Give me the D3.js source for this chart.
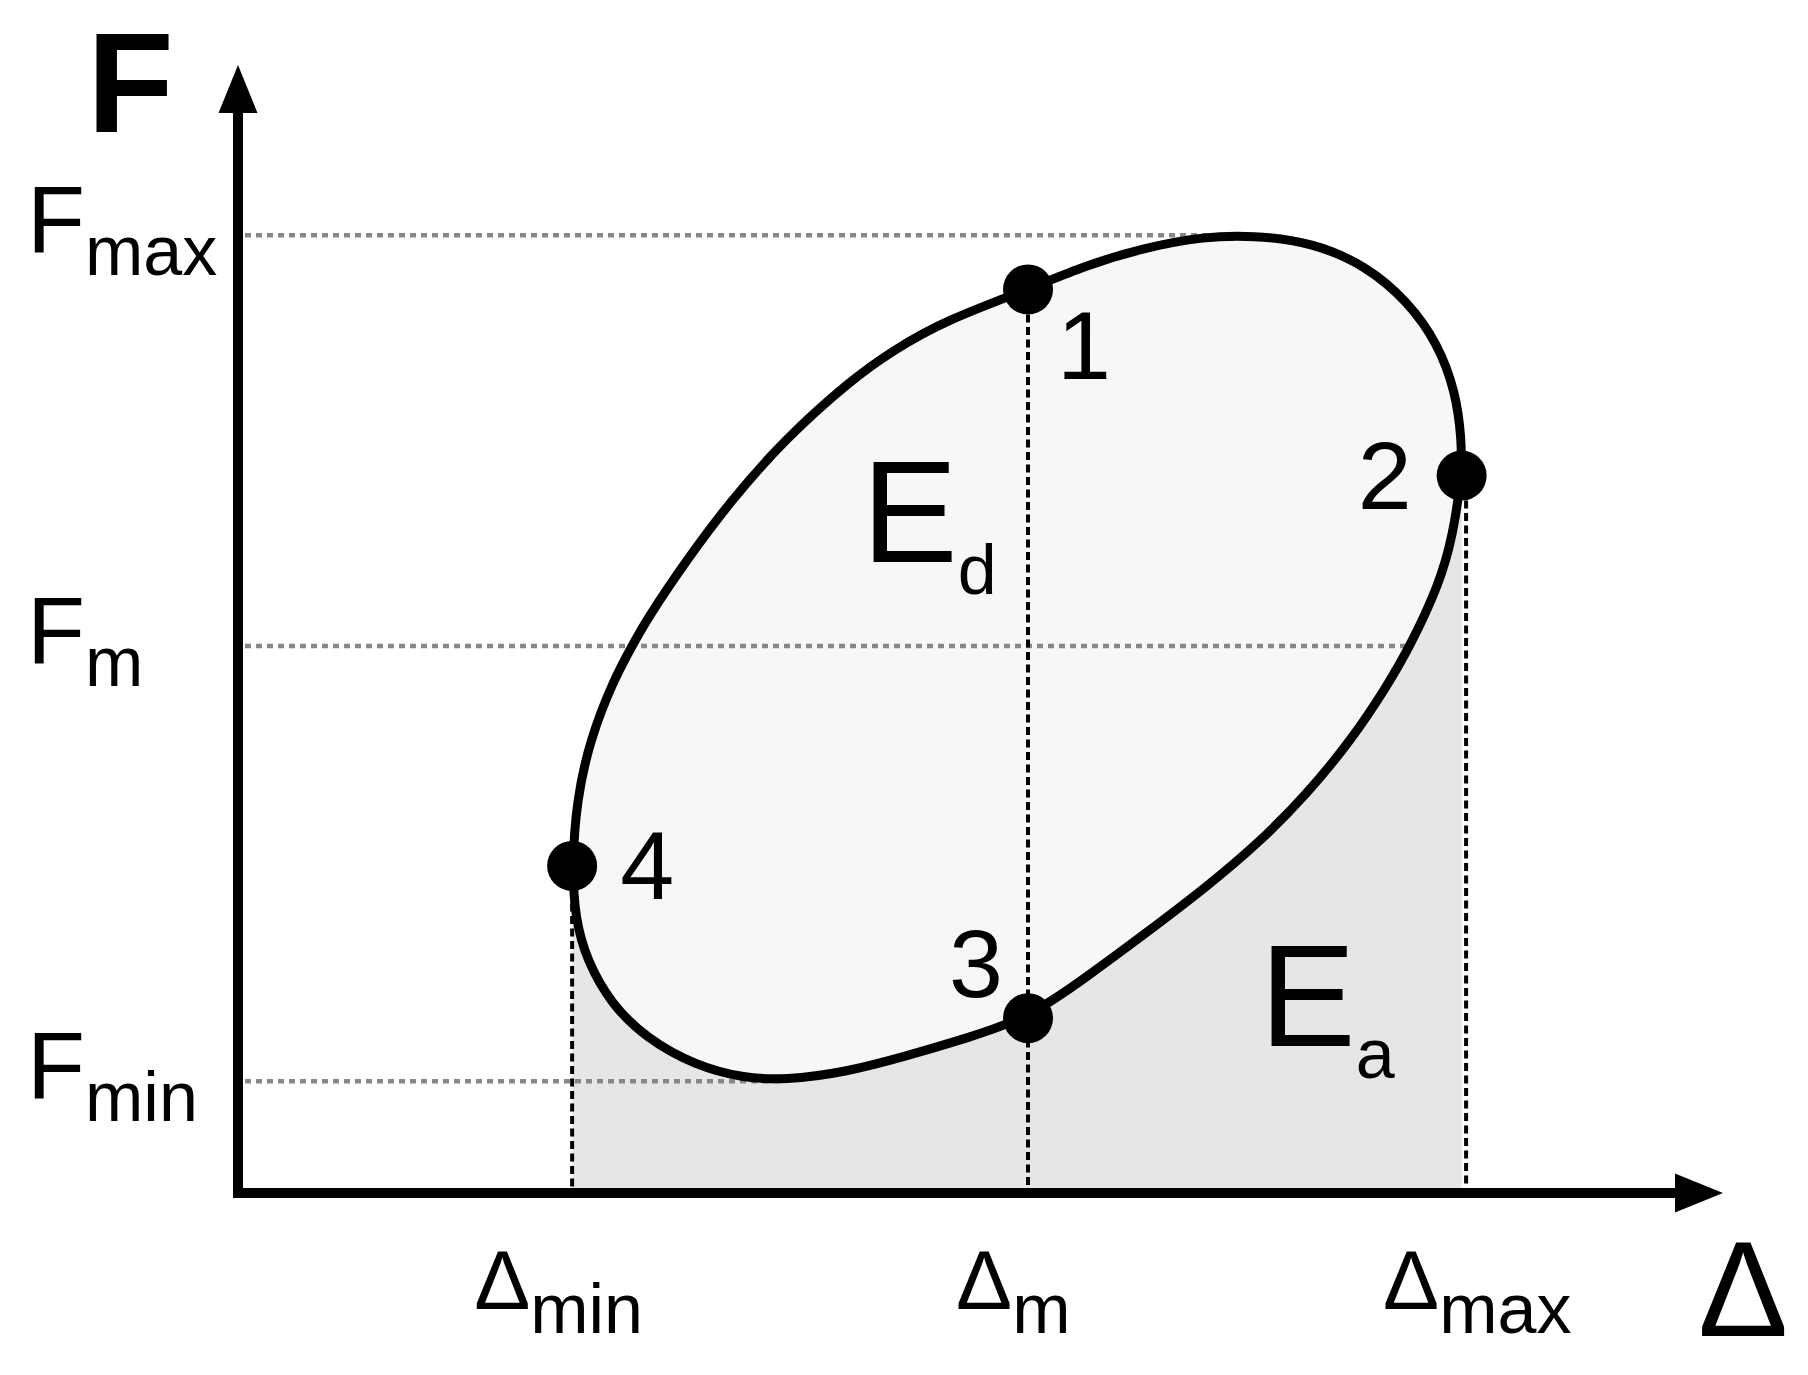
<!DOCTYPE html>
<html>
<head>
<meta charset="utf-8">
<script src="https://cdn.jsdelivr.net/npm/d3@7"></script>
<style>
  body { margin: 0; background: #fff; }
  svg { display: block; font-family: "Liberation Sans", Arial, sans-serif; }
</style>
</head>
<body>
<div id="chart"></div>
<script>
// tick positions, axes run 0..100 (arbitrary units)
const xTickSubs = ["min", "m", "max"];
const xTickValues = [22.5, 53.2, 82.7];
const yTickSubs = ["max", "m", "min"];
const yTickValues = [84.9, 48.5, 9.9];

// the four marked states on the loop
const pointNames = ["1", "2", "3", "4"];
const pointDelta = [53.2, 82.4, 53.2, 22.5];
const pointForce = [80.1, 63.6, 15.5, 29.0];

// loop, starting at point 4 going up the left side
const loopDelta = [22.5, 22.8, 23.7, 25.3, 26.5, 27.5, 30.2, 33.2, 36.8, 41.3,
  44.1, 47.7, 53.2, 57.0, 61.0, 65.1, 68.3, 72.3, 76.0, 78.8,
  80.8, 82.0, 82.4, 82.4, 81.8, 80.9, 78.9, 77.4, 75.0, 72.0,
  68.8, 65.1, 61.1, 57.2, 53.2, 49.0, 44.9, 40.9, 36.8, 34.0,
  30.8, 27.5, 25.1, 23.5, 22.7];
const loopForce = [29.0, 34.8, 40.2, 45.5, 48.4, 50.8, 56.1, 61.4, 66.8, 72.1,
  74.7, 77.4, 80.1, 82.2, 83.8, 84.8, 84.9, 84.3, 82.2, 79.0,
  75.3, 71.0, 66.8, 63.6, 58.2, 54.0, 48.4, 45.0, 40.2, 35.4,
  31.1, 27.0, 23.0, 19.2, 15.5, 13.7, 12.1, 10.7, 10.0, 10.2,
  11.3, 13.7, 16.8, 20.6, 24.3];

// energy labels (E_d inside the loop, E_a under the loading branch)
const energySubs = ["d", "a"];
const energyDelta = [42.0, 68.8];
const energyForce = [55.9, 13.0];

var width = 1808;
var height = 1375;

var svg = d3
  .select("#chart")
  .append("svg")
  .attr("width", width)
  .attr("height", height);

svg.append("rect").attr("width", width).attr("height", height).attr("fill", "#fff");

var x = d3.scaleLinear().domain([0, 100]).range([238, 1723]);
var y = d3.scaleLinear().domain([0, 100]).range([1193, 65]);

var loop = loopDelta.map(function (d, i) {
  return { d: d, f: loopForce[i] };
});
var points = pointNames.map(function (n, i) {
  return { name: n, d: pointDelta[i], f: pointForce[i] };
});

// index of point 2 (right-most, lower of the two equal ones) on the loop
var rightIdx = d3.maxIndex(loop, function (p) { return p.d - p.f * 1e-3; });

// E_a area: under the lower branch, point 4 -> 3 -> 2
var lower = [loop[0]].concat(loop.slice(rightIdx).reverse());
var area = d3
  .area()
  .x(function (p) { return x(p.d); })
  .y0(y(0))
  .y1(function (p) { return y(p.f); })
  .curve(d3.curveBasis);
svg.append("path").attr("d", area(lower)).attr("fill", "#e6e6e6");

// basis smooths out the small reading noise in the traced points
var loopLine = d3
  .line()
  .x(function (p) { return x(p.d); })
  .y(function (p) { return y(p.f); })
  .curve(d3.curveBasisClosed);

// loop interior
svg.append("path").attr("d", loopLine(loop)).attr("fill", "#f7f7f7");

// horizontal guides stop where they meet the loop
var loopTop = d3.greatest(loop, function (p) { return p.f; });
var loopBottom = d3.least(loop, function (p) { return p.f; });
var fmEnd = d3.least(
  loop.filter(function (p) { return p.d > xTickValues[1]; }),
  function (p) { return Math.abs(p.f - yTickValues[1]); }
);
var guideEnds = [loopTop.d, fmEnd.d, loopBottom.d];

svg
  .selectAll(".hguide")
  .data(yTickValues)
  .enter()
  .append("line")
  .attr("class", "hguide")
  .attr("x1", x(0) + 7)
  .attr("x2", function (v, i) { return x(guideEnds[i]); })
  .attr("y1", function (v) { return y(v); })
  .attr("y2", function (v) { return y(v); })
  .attr("stroke", "#888")
  .attr("stroke-width", 4.5)
  .attr("stroke-dasharray", "6,5");

// vertical guides go down from the highest marked point on that delta
svg
  .selectAll(".vguide")
  .data(xTickValues)
  .enter()
  .append("line")
  .attr("class", "vguide")
  .attr("x1", function (v) { return x(v); })
  .attr("x2", function (v) { return x(v); })
  .attr("y1", function (v) {
    var near = points.filter(function (p) { return Math.abs(p.d - v) < 1; });
    return y(d3.max(near, function (p) { return p.f; }));
  })
  .attr("y2", y(0))
  .attr("stroke", "#000")
  .attr("stroke-width", 4)
  .attr("stroke-dasharray", "8,4.5");

// loop outline
svg
  .append("path")
  .attr("d", loopLine(loop))
  .attr("fill", "none")
  .attr("stroke", "#000")
  .attr("stroke-width", 9);

// axes with arrow heads
svg.append("line")
  .attr("x1", x(0)).attr("y1", y(0) + 5)
  .attr("x2", x(0)).attr("y2", y(100) + 44)
  .attr("stroke", "#000").attr("stroke-width", 10);
svg.append("path")
  .attr("d", "M" + x(0) + "," + y(100) + "L" + (x(0) - 19.5) + "," + (y(100) + 48) + "L" + (x(0) + 19.5) + "," + (y(100) + 48) + "Z")
  .attr("fill", "#000");

svg.append("line")
  .attr("x1", x(0) - 5).attr("y1", y(0))
  .attr("x2", x(100) - 44).attr("y2", y(0))
  .attr("stroke", "#000").attr("stroke-width", 10);
svg.append("path")
  .attr("d", "M" + x(100) + "," + y(0) + "L" + (x(100) - 48) + "," + (y(0) - 19.5) + "L" + (x(100) - 48) + "," + (y(0) + 19.5) + "Z")
  .attr("fill", "#000");

// marked points
svg
  .selectAll(".pt")
  .data(points)
  .enter()
  .append("circle")
  .attr("class", "pt")
  .attr("cx", function (p) { return x(p.d); })
  .attr("cy", function (p) { return y(p.f); })
  .attr("r", 25)
  .attr("fill", "#000");

// point numbers, nudged to sit beside each dot
var labelOffset = { "1": [56, 90], "2": [-77, 33], "3": [-52, -21], "4": [75, 33] };
svg
  .selectAll(".ptlabel")
  .data(points)
  .enter()
  .append("text")
  .attr("class", "ptlabel")
  .attr("x", function (p) { return x(p.d) + labelOffset[p.name][0]; })
  .attr("y", function (p) { return y(p.f) + labelOffset[p.name][1]; })
  .attr("text-anchor", "middle")
  .attr("font-size", 97)
  .text(function (p) { return p.name; });

// y tick labels F_max, F_m, F_min
svg
  .selectAll(".ylab")
  .data(yTickValues)
  .enter()
  .append("text")
  .attr("class", "ylab")
  .attr("x", 27)
  .attr("y", function (v) { return y(v) + 17; })
  .each(function (v, i) {
    var t = d3.select(this);
    t.append("tspan").attr("font-size", 95).text("F");
    t.append("tspan").attr("font-size", 70).attr("dy", 23).text(yTickSubs[i]);
  });

// x tick labels Δ_min, Δ_m, Δ_max (small per-label nudge, like the original)
var xLabelShift = { min: -98, m: -72, max: -83 };
svg
  .selectAll(".xlab")
  .data(xTickValues)
  .enter()
  .append("text")
  .attr("class", "xlab")
  .attr("x", function (v, i) { return x(v) + xLabelShift[xTickSubs[i]]; })
  .attr("y", y(0) + 116)
  .each(function (v, i) {
    var t = d3.select(this);
    t.append("tspan").attr("font-size", 84).text("\u0394");
    t.append("tspan").attr("font-size", 70).attr("dy", 24).text(xTickSubs[i]);
  });

// energy labels
svg
  .selectAll(".elab")
  .data(energyDelta)
  .enter()
  .append("text")
  .attr("class", "elab")
  .attr("x", function (v) { return x(v); })
  .attr("y", function (v, i) { return y(energyForce[i]); })
  .each(function (v, i) {
    var t = d3.select(this);
    t.append("tspan").attr("font-size", 144).text("E");
    t.append("tspan").attr("font-size", 70).attr("dy", 32).text(energySubs[i]);
  });

// axis titles
svg.append("text")
  .attr("x", x(0) - 151)
  .attr("y", y(100) + 67)
  .attr("font-size", 142)
  .attr("font-weight", "bold")
  .text("F");

svg.append("text")
  .attr("x", x(100) - 25)
  .attr("y", y(0) + 143)
  .attr("font-size", 135)
  .text("\u0394");
</script>
</body>
</html>
